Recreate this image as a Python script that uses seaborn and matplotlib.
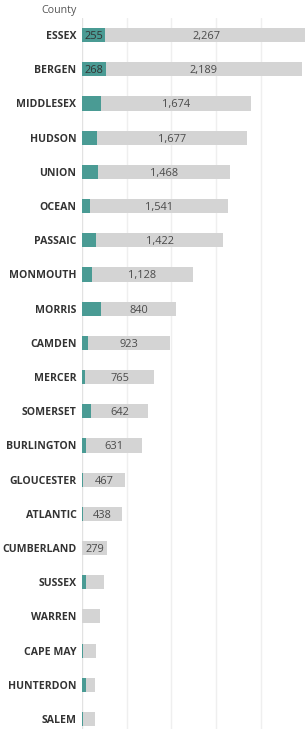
import pandas as pd
import matplotlib.pyplot as plt
import seaborn as sns

# data
counties = ["ESSEX", "BERGEN", "MIDDLESEX", "HUDSON", "UNION", "OCEAN", "PASSAIC",
            "MONMOUTH", "MORRIS", "CAMDEN", "MERCER", "SOMERSET", "BURLINGTON",
            "GLOUCESTER", "ATLANTIC", "CUMBERLAND", "SUSSEX", "WARREN", "CAPE MAY",
            "HUNTERDON", "SALEM"]
teal_vals = [255, 268, 212, 167, 183, 90, 156, 113, 211, 64, 37, 98, 42,
             12, 10, 4, 42, 2, 8, 41, 8]
gray_vals = [2267, 2189, 1674, 1677, 1468, 1541, 1422, 1128, 840, 923, 765, 642, 631,
             467, 438, 279, 204, 199, 149, 104, 137]

TEAL = "#4a9b94"
GRAY = "#d4d4d4"

df = pd.DataFrame({"County": counties, "teal": teal_vals, "gray": gray_vals})
df["total"] = df["teal"] + df["gray"]

sns.set_style("white")
plt.rcParams['font.family'] = ['Open Sans', 'DejaVu Sans']

W, H = 305, 729
fig = plt.figure(figsize=(W / 100, H / 100), dpi=100)
left, top, bottom = 82, 18, 729
ax = fig.add_axes([left / W, 1 - bottom / H, (W - left) / W, (bottom - top) / H])

sns.barplot(data=df, x="total", y="County", color=GRAY, width=0.41,
            orient="h", ax=ax, saturation=1, zorder=2, linewidth=0)
sns.barplot(data=df, x="teal", y="County", color=TEAL, width=0.41,
            orient="h", ax=ax, saturation=1, zorder=3, linewidth=0)

ax.set_xlim(0, 2494)
ax.set_ylim(20.29, -0.5)

for g in [500, 1000, 1500, 2000]:
    ax.axvline(g, color="#efefef", lw=1, zorder=0)
ax.axvline(0, color="#e2e2e2", lw=1, zorder=1)

# labels (only where they fit)
for i, row in df.iterrows():
    if row["teal"] >= 250:
        ax.text(row["teal"] / 2, i, f"{row['teal']:,}", ha="center",
                va="center_baseline", fontsize=7.9, color="#333333", zorder=5)
    if row["gray"] >= 250:
        ax.text(row["teal"] + row["gray"] / 2, i, f"{row['gray']:,}", ha="center",
                va="center_baseline", fontsize=7.9, color="#4a4a4a", zorder=5)

ax.set_xlabel("")
ax.set_ylabel("")
ax.set_xticks([])
ax.tick_params(axis="y", length=0, pad=4)
for lab in ax.get_yticklabels():
    lab.set_fontsize(7.6)
    lab.set_fontweight("bold")
    lab.set_color("#333333")
    lab.set_verticalalignment("center_baseline")
for s in ax.spines.values():
    s.set_visible(False)

fig.text(77 / W, 1 - 10 / H, "County", ha="right", va="center", fontsize=7.7, color="#555555")

fig.savefig("out.png", dpi=100)
